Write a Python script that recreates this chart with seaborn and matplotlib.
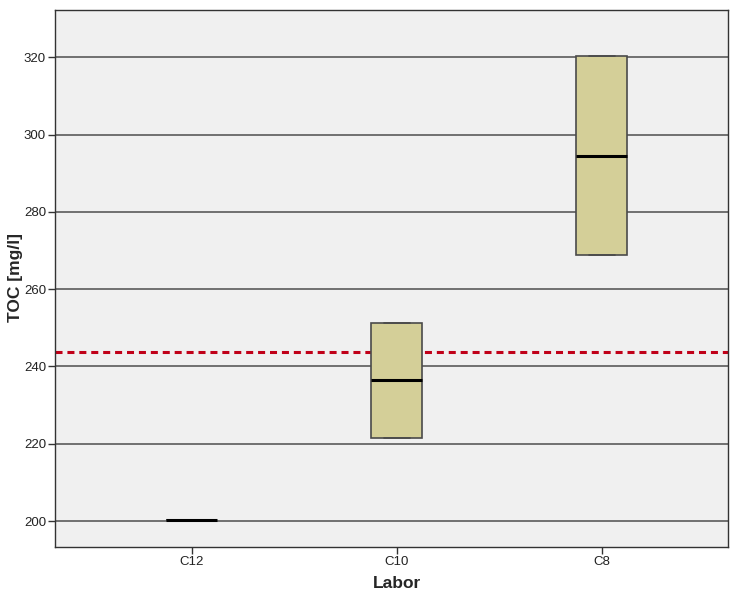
import matplotlib
matplotlib.use('Agg')
import matplotlib.pyplot as plt
import pandas as pd
import seaborn as sns

labs = ['C12', 'C10', 'C8']
q1_vals = [200.3, 221.5, 268.8]
median_vals = [200.3, 236.4, 294.5]
q3_vals = [200.3, 251.2, 320.3]
ref_line = 243.7
y_ticks = [200, 220, 240, 260, 280, 300, 320]

# small sample per lab so that hinges match the SPSS boxes (min=Q1, max=Q3)
rows = []
for lab, a, m, b in zip(labs, q1_vals, median_vals, q3_vals):
    for v in [a, a, m, b, b]:
        rows.append({'Labor': lab, 'TOC': v})
df = pd.DataFrame(rows)

sns.set_style('white')
plt.rcParams['font.family'] = ['Liberation Sans', 'DejaVu Sans']

fig = plt.figure(figsize=(7.3, 5.92), dpi=100)
ax = fig.add_axes([0.0753, 0.076, 0.9217, 0.907])
ax.set_facecolor('#f0f0f0')

# grid lines
for t in y_ticks:
    ax.axhline(t, color='#5a5a5a', lw=1.2, zorder=1)

# reference line (behind the boxes)
ax.axhline(ref_line, color='#c00018', lw=2.2, ls=(0, (2.3, 1.6)), zorder=2)

sns.boxplot(data=df, x='Labor', y='TOC', order=labs, width=0.25,
            color='#d4cf98', linecolor='#4a4a4a', linewidth=1.2,
            medianprops={'color': 'black', 'linewidth': 2.2},
            showfliers=False, saturation=1, ax=ax, zorder=3)

ax.set_xlim(-0.668, 2.615)
ax.set_ylim(193.3, 332.2)
ax.set_yticks(y_ticks)
ax.tick_params(axis='both', direction='out', length=5, width=1, color='#333333',
               labelsize=9.5, labelcolor='#222222', left=True, bottom=True, pad=1.5)
for s in ax.spines.values():
    s.set_color('#333333')
    s.set_linewidth(1)

ax.set_xlabel('Labor', fontsize=12.5, fontweight='bold')
ax.set_ylabel('TOC [mg/l]', fontsize=12.5, fontweight='bold')
ax.yaxis.set_label_coords(-0.047, 0.501)
ax.xaxis.set_label_coords(0.508, -0.054)

fig.savefig('out.png', dpi=100)
